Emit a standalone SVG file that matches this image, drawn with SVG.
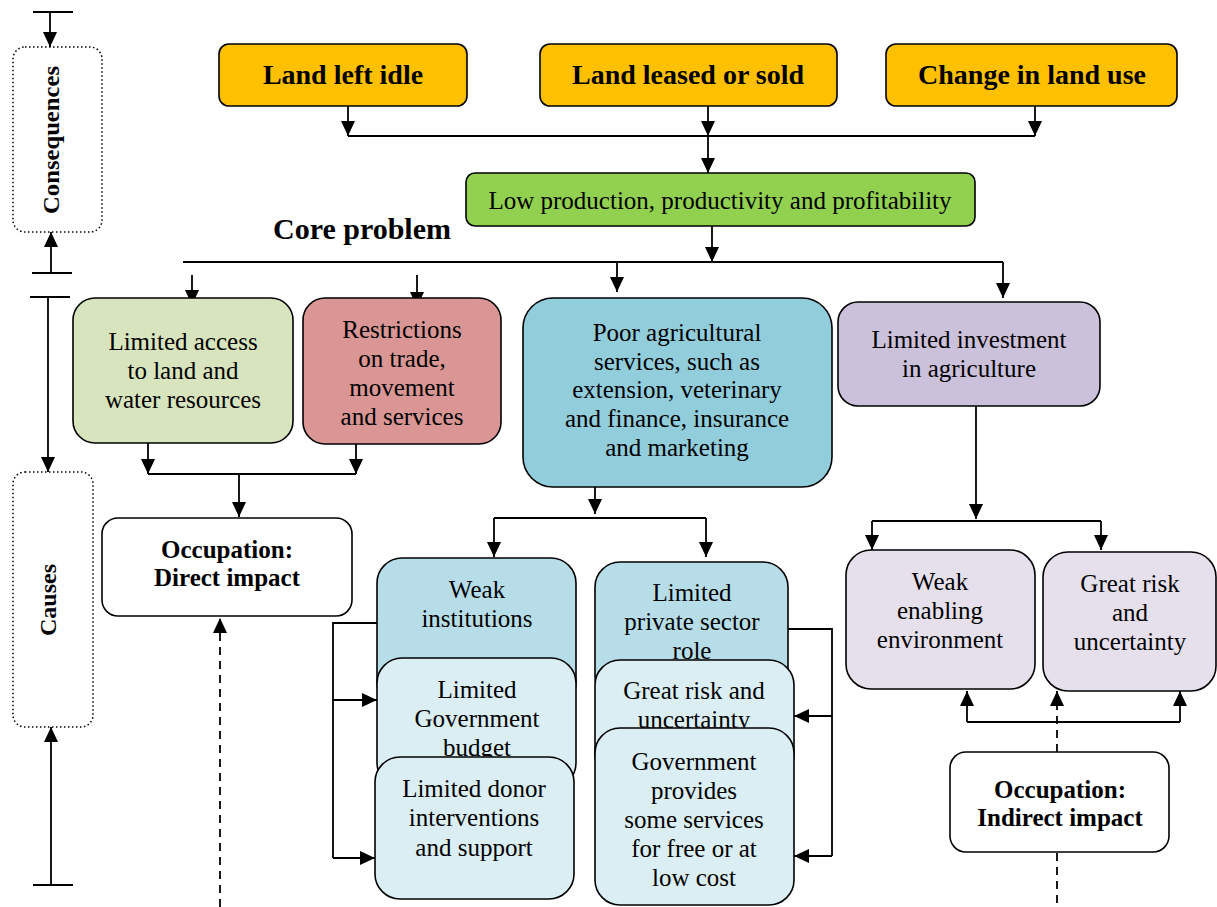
<svg xmlns="http://www.w3.org/2000/svg" width="1217" height="907" viewBox="0 0 1217 907">
<style>
.t{font-family:"Liberation Serif","Times New Roman",serif;font-size:25px;fill:#000;text-anchor:middle}
.b{font-weight:bold}
.h{font-family:"Liberation Serif","Times New Roman",serif;font-size:28px;font-weight:bold;fill:#000;text-anchor:middle}
.box{stroke:#000;stroke-width:1.6}
.ln{stroke:#000;stroke-width:1.8;fill:none}
.dash{stroke:#000;stroke-width:1.8;fill:none;stroke-dasharray:8,6}
.dot{stroke:#000;stroke-width:1.5;fill:none;stroke-dasharray:1.5,2.5}
</style>
<defs>
<marker id="a" markerUnits="userSpaceOnUse" markerWidth="15" markerHeight="14" viewBox="0 0 15 14" refX="15" refY="7" orient="auto">
<path d="M0,0 L15,7 L0,14 z" fill="#000"/>
</marker>
</defs>
<rect width="1217" height="907" fill="#fff"/>

<g id="side-consequences">
<path class="ln" d="M33,12 H73"/>
<path class="ln" d="M50,12 V47" marker-end="url(#a)"/>
<rect class="dot" x="13" y="47" width="89" height="185" rx="12"/>
<text class="h" transform="translate(59,140) rotate(-90)" style="font-size:24px" textLength="148" lengthAdjust="spacingAndGlyphs">Consequences</text>
<path class="ln" d="M32,273 H72"/>
<path class="ln" d="M51,273 V232" marker-end="url(#a)"/>
</g>

<g id="side-causes">
<path class="ln" d="M30,297 H70"/>
<path class="ln" d="M48,297 V472" marker-end="url(#a)"/>
<rect class="dot" x="13" y="472" width="80" height="255" rx="12"/>
<text class="h" transform="translate(56,600) rotate(-90)" style="font-size:24px">Causes</text>
<path class="ln" d="M33,885 H73"/>
<path class="ln" d="M51,885 V727" marker-end="url(#a)"/>
</g>

<g id="connectors">
<path class="ln" d="M348,106 V136" marker-end="url(#a)"/>
<path class="ln" d="M708,106 V136" marker-end="url(#a)"/>
<path class="ln" d="M1035,106 V136" marker-end="url(#a)"/>
<path class="ln" d="M348,136 H1035"/>
<path class="ln" d="M708,136 V173" marker-end="url(#a)"/>
<path class="ln" d="M712,226 V262" marker-end="url(#a)"/>
<path class="ln" d="M183,262 H1003"/>
<path class="ln" d="M192,275 V305" marker-end="url(#a)"/>
<path class="ln" d="M417,275 V307" marker-end="url(#a)"/>
<path class="ln" d="M617,262 V292" marker-end="url(#a)"/>
<path class="ln" d="M1003,262 V298" marker-end="url(#a)"/>
<path class="ln" d="M148,443 V474" marker-end="url(#a)"/>
<path class="ln" d="M356,444 V474" marker-end="url(#a)"/>
<path class="ln" d="M148,474 H356"/>
<path class="ln" d="M239,474 V517" marker-end="url(#a)"/>
<path class="dash" d="M220,907 V618" marker-end="url(#a)"/>
<path class="ln" d="M595,487 V514" marker-end="url(#a)"/>
<path class="ln" d="M494,518 H706"/>
<path class="ln" d="M494,518 V557" marker-end="url(#a)"/>
<path class="ln" d="M706,518 V557" marker-end="url(#a)"/>
<path class="ln" d="M377,623 H333 V858"/>
<path class="ln" d="M333,700 H377" marker-end="url(#a)"/>
<path class="ln" d="M333,858 H375" marker-end="url(#a)"/>
<path class="ln" d="M788,629 H832 V856"/>
<path class="ln" d="M832,716 H794" marker-end="url(#a)"/>
<path class="ln" d="M832,856 H794" marker-end="url(#a)"/>
<path class="ln" d="M976,406 V519" marker-end="url(#a)"/>
<path class="ln" d="M872,521 H1101"/>
<path class="ln" d="M872,521 V550" marker-end="url(#a)"/>
<path class="ln" d="M1101,521 V550" marker-end="url(#a)"/>
<path class="ln" d="M967,722 H1180"/>
<path class="ln" d="M967,722 V691" marker-end="url(#a)"/>
<path class="ln" d="M1180,722 V691" marker-end="url(#a)"/>
<path class="dash" d="M1057,752 V691" marker-end="url(#a)"/>
<path class="dash" d="M1057,853 V907"/>
</g>

<g id="n-idle">
<rect class="box" x="219" y="44" width="248" height="62" rx="10" fill="#FFC000"/>
<text class="h" x="343" y="84">Land left idle</text>
</g>
<g id="n-leased">
<rect class="box" x="540" y="44" width="297" height="62" rx="10" fill="#FFC000"/>
<text class="h" x="688" y="84">Land leased or sold</text>
</g>
<g id="n-change">
<rect class="box" x="886" y="44" width="291" height="62" rx="10" fill="#FFC000"/>
<text class="h" x="1032" y="84">Change in land use</text>
</g>

<g id="n-low">
<rect class="box" x="466" y="173" width="509" height="53" rx="9" fill="#92D050"/>
<text class="t" x="720" y="209">Low production, productivity and profitability</text>
</g>

<g id="core-label">
<text class="h" x="362" y="239" style="font-size:30px">Core problem</text>
</g>

<g id="n-access">
<rect class="box" x="73" y="298" width="220" height="145" rx="22" fill="#D7E4BD"/>
<text class="t" x="183" y="350">Limited access</text>
<text class="t" x="183" y="379">to land and</text>
<text class="t" x="183" y="408">water resources</text>
</g>
<g id="n-restrictions">
<rect class="box" x="303" y="298" width="198" height="146" rx="22" fill="#D99694"/>
<text class="t" x="402" y="338">Restrictions</text>
<text class="t" x="402" y="367">on trade,</text>
<text class="t" x="402" y="396">movement</text>
<text class="t" x="402" y="425">and services</text>
</g>
<g id="n-poor">
<rect class="box" x="523" y="298" width="309" height="189" rx="30" fill="#92CDDC"/>
<text class="t" x="677" y="341">Poor agricultural</text>
<text class="t" x="677" y="370">services, such as</text>
<text class="t" x="677" y="398">extension, veterinary</text>
<text class="t" x="677" y="427">and finance, insurance</text>
<text class="t" x="677" y="456">and marketing</text>
</g>
<g id="n-invest">
<rect class="box" x="838" y="302" width="262" height="104" rx="20" fill="#CCC1DA"/>
<text class="t" x="969" y="348">Limited investment</text>
<text class="t" x="969" y="377">in agriculture</text>
</g>

<g id="n-direct">
<rect class="box" x="102" y="518" width="250" height="98" rx="16" fill="#fff"/>
<text class="t b" x="227" y="558">Occupation:</text>
<text class="t b" x="227" y="586">Direct impact</text>
</g>

<g id="n-weakinst">
<rect class="box" x="377" y="558" width="199" height="150" rx="25" fill="#B7DEE8"/>
<text class="t" x="477" y="598">Weak</text>
<text class="t" x="477" y="627">institutions</text>
</g>
<g id="n-govbudget">
<rect class="box" x="377" y="658" width="199" height="130" rx="25" fill="#DAEEF3"/>
<text class="t" x="477" y="698">Limited</text>
<text class="t" x="477" y="727">Government</text>
<text class="t" x="477" y="756">budget</text>
</g>
<g id="n-donor">
<rect class="box" x="375" y="757" width="199" height="142" rx="25" fill="#DAEEF3"/>
<text class="t" x="474" y="797">Limited donor</text>
<text class="t" x="474" y="826">interventions</text>
<text class="t" x="474" y="856">and support</text>
</g>

<g id="n-private">
<rect class="box" x="595" y="562" width="193" height="140" rx="25" fill="#B7DEE8"/>
<text class="t" x="692" y="601">Limited</text>
<text class="t" x="692" y="630">private sector</text>
<text class="t" x="692" y="659">role</text>
</g>
<g id="n-risk1">
<rect class="box" x="595" y="660" width="199" height="120" rx="25" fill="#DAEEF3"/>
<text class="t" x="694" y="699">Great risk and</text>
<text class="t" x="694" y="728">uncertainty</text>
</g>
<g id="n-govfree">
<rect class="box" x="595" y="728" width="199" height="177" rx="25" fill="#DAEEF3"/>
<text class="t" x="694" y="770">Government</text>
<text class="t" x="694" y="799">provides</text>
<text class="t" x="694" y="828">some services</text>
<text class="t" x="694" y="857">for free or at</text>
<text class="t" x="694" y="886">low cost</text>
</g>

<g id="n-enabling">
<rect class="box" x="846" y="550" width="189" height="139" rx="25" fill="#E6E0EC"/>
<text class="t" x="940" y="590">Weak</text>
<text class="t" x="940" y="619">enabling</text>
<text class="t" x="940" y="648">environment</text>
</g>
<g id="n-risk2">
<rect class="box" x="1043" y="552" width="173" height="139" rx="25" fill="#E6E0EC"/>
<text class="t" x="1130" y="592">Great risk</text>
<text class="t" x="1130" y="621">and</text>
<text class="t" x="1130" y="650">uncertainty</text>
</g>

<g id="n-indirect">
<rect class="box" x="950" y="752" width="219" height="100" rx="16" fill="#fff"/>
<text class="t b" x="1060" y="798">Occupation:</text>
<text class="t b" x="1060" y="826">Indirect impact</text>
</g>
</svg>
